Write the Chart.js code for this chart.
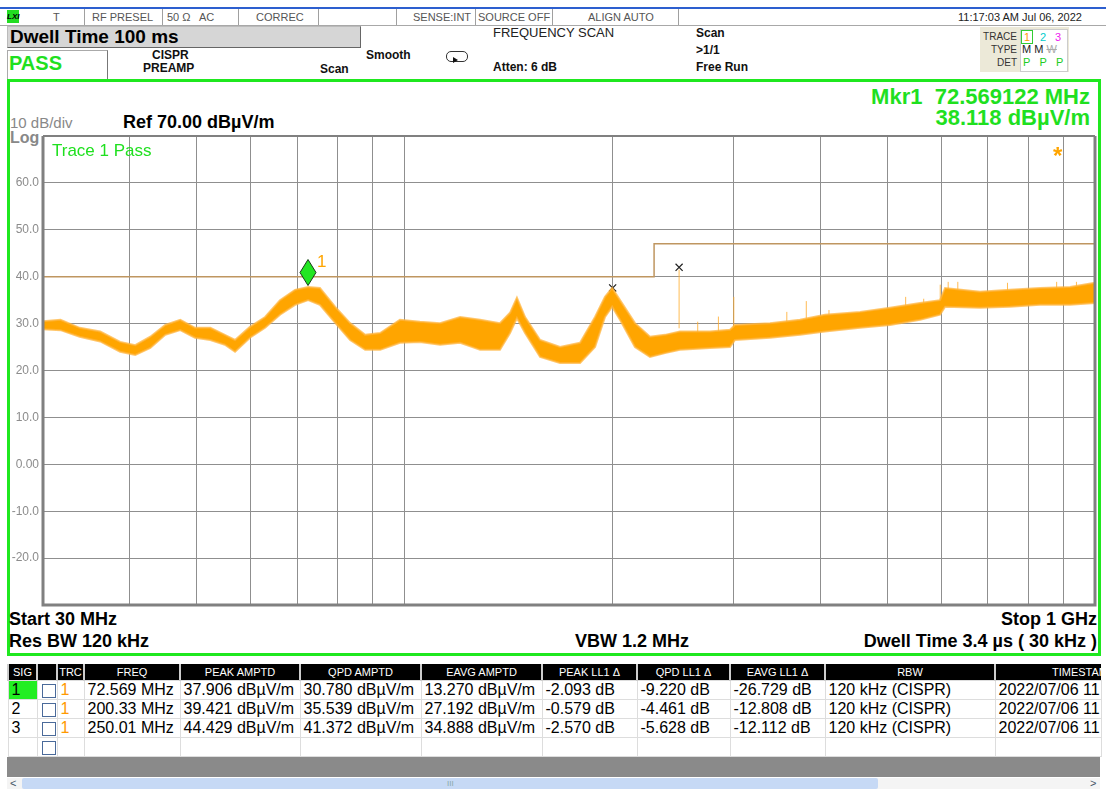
<!DOCTYPE html>
<html>
<head>
<meta charset="utf-8">
<script src="https://cdn.jsdelivr.net/npm/chart.js@4.4.1/dist/chart.umd.min.js"></script>
<style>
body{margin:0;width:1106px;height:789px;position:relative;overflow:hidden;background:#fff;font-family:"Liberation Sans",Arial,sans-serif;}
.a{position:absolute;white-space:nowrap;}
.st{font-size:11px;line-height:12px;top:11px;color:#555;}
.sep{position:absolute;top:9px;width:1px;height:16px;background:#a0a0a0;}
.b12{font-size:12px;line-height:13px;font-weight:bold;color:#111;}
.big{font-size:18px;line-height:20px;font-weight:bold;color:#000;}
.grn{color:#1fe01f;}
#wrap{position:absolute;left:0;top:0;width:1106px;height:789px;z-index:1;}
.over{z-index:2;}
table{position:absolute;left:7px;top:664px;border-collapse:collapse;table-layout:fixed;width:1093px;font-size:16px;}
th{background:#000;color:#fff;font-weight:normal;font-size:11px;height:16px;padding:0;border-left:2px solid #ccc;overflow:hidden;white-space:nowrap;}
td{height:18px;padding:0 0 0 3px;border:1px solid #ddd;overflow:hidden;white-space:nowrap;color:#000;}
.chk{display:inline-block;width:12px;height:12px;border:1px solid #4a6a9a;background:#fff;vertical-align:middle;margin-left:1px;}
</style>
</head>
<body>
<!-- status bar -->
<div class="a" style="left:0;top:7px;width:1106px;height:2px;background:#2d5fcf"></div>
<div class="a" style="left:0;top:25px;width:1106px;height:1px;background:#a8a8a8"></div>
<div class="a" style="left:7px;top:10px;width:12px;height:13px;background:#22dd22;font-size:8px;line-height:13px;font-weight:bold;font-style:italic;color:#000">LXI</div>
<div class="sep" style="left:84px"></div><div class="sep" style="left:162px"></div>
<div class="sep" style="left:238px"></div><div class="sep" style="left:318px"></div>
<div class="sep" style="left:396px"></div><div class="sep" style="left:475px"></div>
<div class="sep" style="left:552px"></div><div class="sep" style="left:678px"></div>
<div class="a st" style="left:53px">T</div>
<div class="a st" style="left:92px">RF PRESEL</div>
<div class="a st" style="left:167px">50 Ω</div>
<div class="a st" style="left:199px">AC</div>
<div class="a st" style="left:256px">CORREC</div>
<div class="a st" style="left:413px">SENSE:INT</div>
<div class="a st" style="left:478px">SOURCE OFF</div>
<div class="a st" style="left:588px">ALIGN AUTO</div>
<div class="a st" style="left:958px;color:#222">11:17:03 AM Jul 06, 2022</div>

<!-- second header rows -->
<div class="a" style="left:7px;top:26px;width:352px;height:20px;background:#d6d6d6;border:1px solid #666;border-top-color:#bbb;border-left-color:#bbb"></div>
<div class="a" style="left:10px;top:26px;font-size:19px;line-height:21px;font-weight:bold;color:#000">Dwell Time 100 ms</div>
<div class="a" style="left:7px;top:50px;width:99px;height:28px;border:1px solid #aaa;border-right-color:#777;border-bottom-color:#777"></div>
<div class="a grn" style="left:9px;top:52px;font-size:20px;line-height:22px;font-weight:bold">PASS</div>
<div class="a b12" style="left:152px;top:49px">CISPR</div>
<div class="a b12" style="left:143px;top:62px">PREAMP</div>
<div class="a b12" style="left:320px;top:63px">Scan</div>
<div class="a b12" style="left:366px;top:49px">Smooth</div>
<div class="a" style="left:446px;top:51px;width:20px;height:9px;border:1px solid #333;border-radius:5px"></div>
<div class="a" style="left:453px;top:57px;width:0;height:0;border-left:5px solid #111;border-top:3px solid transparent;border-bottom:3px solid transparent"></div>
<div class="a" style="left:493px;top:26px;font-size:13px;line-height:14px;color:#222">FREQUENCY SCAN</div>
<div class="a b12" style="left:493px;top:61px">Atten: 6 dB</div>
<div class="a b12" style="left:696px;top:27px">Scan</div>
<div class="a b12" style="left:696px;top:44px">&gt;1/1</div>
<div class="a b12" style="left:696px;top:61px">Free Run</div>

<!-- trace indicator -->
<div class="a" style="left:980px;top:27px;width:89px;height:45px;background:#ece9d8"></div>
<div class="a" style="left:1020px;top:29px;width:46px;height:41px;background:#fff;border:1px solid #ccc"></div>
<div class="a" style="left:980px;top:31px;width:37px;text-align:right;font-size:10px;line-height:11px;color:#333">TRACE</div>
<div class="a" style="left:980px;top:44px;width:37px;text-align:right;font-size:10px;line-height:11px;color:#333">TYPE</div>
<div class="a" style="left:980px;top:57px;width:37px;text-align:right;font-size:10px;line-height:11px;color:#333">DET</div>
<div class="a" style="left:1021px;top:30px;width:10px;height:12px;border:1px solid #33cc33;color:#ff9900;font-size:11px;line-height:12px;text-align:center">1</div>
<div class="a" style="left:1040px;top:31px;color:#00cccc;font-size:11px;line-height:12px">2</div>
<div class="a" style="left:1055px;top:31px;color:#ee22ee;font-size:11px;line-height:12px">3</div>
<div class="a" style="left:1022px;top:44px;color:#222;font-size:11px;line-height:11px">M M <span style="color:#aaa;text-decoration:line-through">W</span></div>
<div class="a" style="left:1023px;top:57px;color:#22cc22;font-size:11px;line-height:11px">P&nbsp;&nbsp; P&nbsp;&nbsp; P</div>

<!-- green frame -->
<div class="a" style="left:7px;top:79px;width:1088px;height:571px;border:3px solid #1fe81f"></div>

<div class="a" style="left:10px;top:115px;font-size:15px;line-height:16px;color:#888">10 dB/div</div>
<div class="a" style="left:10px;top:130px;font-size:16px;line-height:16px;color:#888;font-weight:bold">Log</div>
<div class="a big" style="left:123px;top:112px">Ref 70.00 dBµV/m</div>
<div class="a grn" style="right:16px;top:85px;font-size:22px;line-height:23px;font-weight:bold;text-align:right">Mkr1&nbsp; 72.569122 MHz</div>
<div class="a grn" style="right:16px;top:106px;font-size:22px;line-height:23px;font-weight:bold;text-align:right">38.118 dBµV/m</div>
<div class="a grn over" style="left:52px;top:141px;font-size:17px;line-height:19px">Trace 1 Pass</div>
<div class="a over" style="left:1053px;top:143px;font-size:24px;line-height:26px;font-weight:bold;color:#ffa500">*</div>

<div class="a big" style="left:9px;top:609px">Start 30 MHz</div>
<div class="a big" style="left:9px;top:631px">Res BW 120 kHz</div>
<div class="a big" style="left:575px;top:631px">VBW 1.2 MHz</div>
<div class="a big" style="right:9px;top:609px">Stop 1 GHz</div>
<div class="a big" style="right:9px;top:631px">Dwell Time 3.4 µs ( 30 kHz )</div>

<div id="wrap"><canvas id="spec"></canvas></div>

<!-- signal list -->
<table>
<colgroup>
<col style="width:29px"><col style="width:20px"><col style="width:27px"><col style="width:96px">
<col style="width:120px"><col style="width:121px"><col style="width:121px"><col style="width:95px">
<col style="width:93px"><col style="width:95px"><col style="width:170px"><col style="width:106px">
</colgroup>
<tr><th>SIG</th><th></th><th>TRC</th><th>FREQ</th><th>PEAK AMPTD</th><th>QPD AMPTD</th><th>EAVG AMPTD</th><th>PEAK LL1 Δ</th><th>QPD LL1 Δ</th><th>EAVG LL1 Δ</th><th>RBW</th><th style="text-align:left;text-indent:56px">TIMESTAMP</th></tr>
<tr><td style="background:#22ee22">1</td><td><span class="chk"></span></td><td style="color:#ff9900">1</td><td>72.569 MHz</td><td>37.906 dBµV/m</td><td>30.780 dBµV/m</td><td>13.270 dBµV/m</td><td>-2.093 dB</td><td>-9.220 dB</td><td>-26.729 dB</td><td>120 kHz (CISPR)</td><td>2022/07/06 11</td></tr>
<tr><td>2</td><td><span class="chk"></span></td><td style="color:#ff9900">1</td><td>200.33 MHz</td><td>39.421 dBµV/m</td><td>35.539 dBµV/m</td><td>27.192 dBµV/m</td><td>-0.579 dB</td><td>-4.461 dB</td><td>-12.808 dB</td><td>120 kHz (CISPR)</td><td>2022/07/06 11</td></tr>
<tr><td>3</td><td><span class="chk"></span></td><td style="color:#ff9900">1</td><td>250.01 MHz</td><td>44.429 dBµV/m</td><td>41.372 dBµV/m</td><td>34.888 dBµV/m</td><td>-2.570 dB</td><td>-5.628 dB</td><td>-12.112 dB</td><td>120 kHz (CISPR)</td><td>2022/07/06 11</td></tr>
<tr><td></td><td><span class="chk"></span></td><td></td><td></td><td></td><td></td><td></td><td></td><td></td><td></td><td></td><td></td></tr>
</table>
<div class="a" style="left:7px;top:757px;width:1093px;height:20px;background:#8a8a8a"></div>
<div class="a" style="left:7px;top:778px;width:1093px;height:11px;background:#f4f4f4"></div>
<div class="a" style="left:22px;top:778px;width:856px;height:11px;background:#c6d9f5;border-radius:2px"></div>
<div class="a" style="left:447px;top:778px;font-size:8px;line-height:11px;color:#8aa">III</div>
<div class="a" style="left:10px;top:777px;font-size:11px;line-height:12px;color:#456">&lt;</div>
<div class="a" style="left:1090px;top:777px;font-size:11px;line-height:12px;color:#456">&gt;</div>

<script>
// grid (log frequency axis) and level ticks
const gridFreqs = [30, 40, 50, 60, 70, 80, 90, 100, 200, 300, 400, 500, 600, 700, 800, 900, 1000];
const levelTicks = [70, 60, 50, 40, 30, 20, 10, 0, -10, -20, -30];

// limit line (dBuV/m)
const limitFreqs = [30, 230, 230, 1000];
const limitLevels = [40, 40, 47, 47];

// trace 1 envelope (MHz / dBuV/m)
const traceFreqs = [30, 31.8, 33.9, 36.3, 38.8, 40.8, 42.9, 45.1, 47.4, 49.8,
  52.4, 55.0, 56.9, 59.8, 62.9, 66.1, 69.5, 72.6, 75.5, 79.4,
  83.5, 87.8, 92.3, 98.6, 105.4, 112.7, 120.5, 128.8, 137.6, 142.3,
  145.6, 149.6, 157.3, 168.1, 179.7, 188.9, 195.3, 200.0, 205.3, 215.8,
  226.9, 238.5, 250.7, 277.1, 296.2, 301.2, 338.5, 374.1, 406.6, 457.0,
  505.0, 558.1, 596.6, 606.7, 681.5, 753.3, 832.6, 920.1, 1000];
const traceMax = [30.5, 30.8, 29.1, 28.3, 26.1, 25.4, 27.2, 29.7, 30.8, 29.1,
  29.1, 27.6, 26.5, 29.3, 31.4, 35.0, 37.2, 37.8, 37.6, 33.6,
  30.1, 27.6, 28.0, 30.8, 30.4, 30.1, 31.4, 30.8, 30.1, 32.3,
  35.5, 31.4, 26.5, 25.0, 25.9, 31.4, 35.7, 37.6, 35.0, 30.1,
  27.2, 27.6, 28.3, 28.3, 28.7, 29.7, 30.1, 30.8, 31.9, 32.5,
  33.4, 34.4, 35.0, 37.6, 36.8, 37.2, 37.6, 37.8, 38.7];
const traceMin = [28.8, 28.6, 27.2, 26.2, 24.0, 23.3, 24.8, 27.6, 28.6, 27.0,
  26.5, 25.5, 24.0, 27.0, 29.1, 31.9, 34.0, 35.0, 34.0, 30.2,
  26.5, 24.4, 24.4, 25.9, 26.1, 25.5, 25.9, 24.4, 24.4, 28.0,
  31.2, 28.0, 22.9, 21.6, 21.6, 25.0, 31.4, 33.6, 30.8, 25.0,
  22.9, 23.7, 24.4, 24.8, 25.0, 26.5, 27.0, 27.6, 28.3, 29.1,
  29.7, 30.8, 31.9, 33.6, 33.4, 33.6, 34.0, 34.0, 34.4];

// narrow spikes sticking out of the trace
const spikeFreqs = [250, 266, 285, 300, 358, 382, 412, 532, 565, 597, 613, 633, 747, 880, 940, 1000];
const spikeTops  = [41.5, 30.4, 31.5, 35.7, 32.5, 34.8, 32.9, 35.7, 35.3, 38.3, 38.9, 38.9, 38.7, 38.9, 38.9, 40.4];
const spikeBases = [29.0, 28.0, 28.0, 28.5, 29.5, 30.0, 30.5, 33.0, 33.5, 33.5, 35.0, 35.5, 35.5, 36.0, 36.0, 37.0];

// signal list peaks (x marks) and marker 1
const peakFreqs = [200.33, 250.01];
const peakLevels = [37.6, 42.0];
const mkrFreqs = [72.569122];
const mkrLevels = [38.118];

const orange = '#ffa500';
const gridCol = '#8f8f8f';

const pts = (xs, ys) => xs.map((x, i) => ({x: x, y: ys[i]}));
const spikePts = [];
spikeFreqs.forEach((f, i) => {
  spikePts.push({x: f, y: spikeBases[i]}, {x: f, y: spikeTops[i]}, {x: f, y: null});
});

const frame = {
  id: 'frame',
  afterDatasetsDraw(chart) {
    const {ctx, chartArea: a, scales} = chart;
    ctx.save();
    ctx.strokeStyle = '#808080';
    ctx.lineWidth = 3;
    ctx.beginPath();
    ctx.moveTo(a.left, a.top); ctx.lineTo(a.left, a.bottom);
    ctx.lineTo(a.right, a.bottom); ctx.lineTo(a.right, a.top);
    ctx.stroke();
    ctx.lineWidth = 2;
    ctx.beginPath();
    ctx.moveTo(a.left, a.top); ctx.lineTo(a.right, a.top);
    ctx.stroke();
    // marker diamonds
    mkrFreqs.forEach((f, i) => {
      const px = scales.x.getPixelForValue(f);
      const py = scales.y.getPixelForValue(mkrLevels[i]);
      ctx.beginPath();
      ctx.moveTo(px, py);
      ctx.lineTo(px + 8, py - 13);
      ctx.lineTo(px, py - 26);
      ctx.lineTo(px - 8, py - 13);
      ctx.closePath();
      ctx.fillStyle = '#22e622';
      ctx.fill();
      ctx.lineWidth = 1;
      ctx.strokeStyle = '#1a3a1a';
      ctx.stroke();
      ctx.fillStyle = orange;
      ctx.font = '17px "Liberation Sans", Arial';
      ctx.textBaseline = 'middle';
      ctx.fillText(String(i + 1), px + 9, py - 23);
    });
    ctx.restore();
  }
};

new Chart(document.getElementById('spec'), {
  type: 'line',
  data: {
    datasets: [
      {data: pts(limitFreqs, limitLevels), borderColor: '#bf9660', borderWidth: 1.5, pointRadius: 0, fill: false},
      {data: pts(traceFreqs, traceMax), borderColor: 'rgba(255,180,60,0.75)', borderWidth: 2, pointRadius: 0, fill: false},
      {data: pts(traceFreqs, traceMin), borderColor: 'rgba(255,180,60,0.75)', borderWidth: 2, pointRadius: 0,
        fill: '-1', backgroundColor: orange},
      {data: spikePts, borderColor: 'rgba(255,170,40,0.8)', borderWidth: 1, pointRadius: 0, spanGaps: false},
      {data: pts(peakFreqs, peakLevels), showLine: false, pointStyle: 'crossRot', pointRadius: 5,
        borderColor: '#222', borderWidth: 1.2}
    ]
  },
  options: {
    responsive: true,
    maintainAspectRatio: false,
    animation: false,
    layout: {padding: {left: 0, top: 136, right: 11, bottom: 184}},
    plugins: {legend: {display: false}, tooltip: {enabled: false}},
    elements: {line: {tension: 0}},
    scales: {
      x: {
        type: 'logarithmic',
        min: 30,
        max: 1000,
        afterBuildTicks: s => { s.ticks = gridFreqs.map(v => ({value: v})); },
        afterFit: s => { s.height = 0; },
        ticks: {display: false, autoSkip: false},
        grid: {color: gridCol, lineWidth: 1, drawTicks: false},
        border: {display: false}
      },
      y: {
        min: -30,
        max: 70,
        afterBuildTicks: s => { s.ticks = levelTicks.map(v => ({value: v})); },
        afterFit: s => { s.width = 43; },
        ticks: {
          padding: 4,
          color: '#8c8c8c',
          font: {family: '"Liberation Sans", Arial', size: 12},
          callback: v => (v === 70 || v === -30) ? '' : (v === 0 ? '0.00' : v.toFixed(1))
        },
        grid: {color: gridCol, lineWidth: 1, drawTicks: false},
        border: {display: false}
      }
    }
  },
  plugins: [frame]
});
</script>
</body>
</html>
